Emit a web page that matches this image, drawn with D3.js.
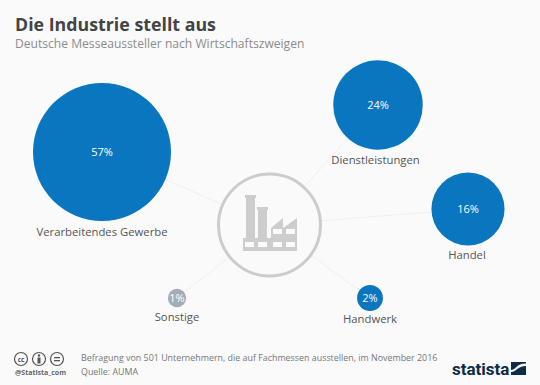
<!DOCTYPE html>
<html>
<head>
<meta charset="utf-8">
<script src="https://cdn.jsdelivr.net/npm/d3@7"></script>
<style>
html, body { margin: 0; padding: 0; background: #fafafa; overflow: hidden; }
text { font-family: "Open Sans", sans-serif; }
</style>
</head>
<body>
<div id="chart"></div>
<script>
const categories = ["Verarbeitendes Gewerbe", "Dienstleistungen", "Handel", "Handwerk", "Sonstige"];
const shares = [57, 24, 16, 2, 1];

const width = 540;
const height = 385;

const svg = d3.select("#chart")
    .append("svg")
    .attr("width", width)
    .attr("height", height)
    .style("display", "block");

svg.append("rect")
    .attr("width", width)
    .attr("height", height)
    .attr("fill", "#fafafa");

// bubble area follows the share
const radius = d3.scaleSqrt().domain([0, 57]).range([0, 69]);

// where each bubble sits around the hub, and where its label goes
const hub = { x: 269.5, y: 225, r: 51 };
const spots = [
    { x: 102, y: 152, labelX: 102, labelY: 236 },
    { x: 378, y: 105, labelX: 375.5, labelY: 164 },
    { x: 468, y: 209, labelX: 467, labelY: 259 },
    { x: 370, y: 298, labelX: 370, labelY: 323 },
    { x: 177, y: 298, labelX: 177, labelY: 321 }
];

const nodes = categories.map((name, i) => ({
    name: name,
    share: shares[i],
    spot: spots[i]
}));

svg.selectAll(".spoke")
    .data(nodes)
    .enter()
    .append("line")
    .attr("class", "spoke")
    .attr("x1", hub.x)
    .attr("y1", hub.y)
    .attr("x2", d => d.spot.x)
    .attr("y2", d => d.spot.y)
    .attr("stroke", "#efefef")
    .attr("stroke-width", 1);

svg.append("circle")
    .attr("cx", hub.x)
    .attr("cy", hub.y)
    .attr("r", hub.r)
    .attr("fill", "#fafafa")
    .attr("stroke", "#cccccc")
    .attr("stroke-width", 3);

// factory icon
const factory = svg.append("g")
    .attr("transform", "translate(200,150)")
    .attr("fill", "#cdcdcd");

factory.append("path")
    .attr("d", "M46,48 H55 V90 H46 Z M58,60 H67 V90 H58 Z M71,90 V78 L83,68 V78 L97,68 V90 Z M43,88 H97 V101 H43 Z M45,45 H56 V48 H45 Z M57,57 H68 V60 H57 Z");

factory.selectAll(".pane")
    .data([[73, 79], [86, 79], [45, 92], [58, 92], [73, 92], [86, 92]])
    .enter()
    .append("rect")
    .attr("class", "pane")
    .attr("x", d => d[0])
    .attr("y", d => d[1])
    .attr("width", 9)
    .attr("height", 5)
    .attr("fill", "#fafafa");

svg.selectAll(".bubble")
    .data(nodes)
    .enter()
    .append("circle")
    .attr("class", "bubble")
    .attr("cx", d => d.spot.x)
    .attr("cy", d => d.spot.y)
    .attr("r", d => radius(d.share))
    .attr("fill", d => d.name === "Sonstige" ? "#a3adb8" : "#0b76c0");

svg.selectAll(".value")
    .data(nodes)
    .enter()
    .append("text")
    .attr("class", "value")
    .attr("x", d => d.spot.x)
    .attr("y", d => d.spot.y + 4)
    .attr("text-anchor", "middle")
    .attr("font-size", 11)
    .attr("fill", "#ffffff")
    .text(d => d.share + "%");

svg.selectAll(".name")
    .data(nodes)
    .enter()
    .append("text")
    .attr("class", "name")
    .attr("x", d => d.spot.labelX)
    .attr("y", d => d.spot.labelY)
    .attr("text-anchor", "middle")
    .attr("font-size", 11.3)
    .attr("fill", "#555555")
    .text(d => d.name);

svg.append("text")
    .attr("x", 15)
    .attr("y", 31)
    .attr("font-size", 17.8)
    .attr("font-weight", 700)
    .attr("fill", "#444444")
    .text("Die Industrie stellt aus");

svg.append("text")
    .attr("x", 15)
    .attr("y", 48)
    .attr("font-size", 12.1)
    .attr("fill", "#8c8c8c")
    .text("Deutsche Messeaussteller nach Wirtschaftszweigen");

svg.append("text")
    .attr("x", 81)
    .attr("y", 361)
    .attr("font-size", 8.9)
    .attr("fill", "#777777")
    .text("Befragung von 501 Unternehmern, die auf Fachmessen ausstellen, im November 2016");

svg.append("text")
    .attr("x", 81)
    .attr("y", 375)
    .attr("font-size", 8.9)
    .attr("fill", "#777777")
    .text("Quelle: AUMA");

// licence badges
const badges = svg.append("g").attr("fill", "none").attr("stroke", "#555555").attr("stroke-width", 1.2);
badges.selectAll("circle")
    .data([21, 39, 57])
    .enter()
    .append("circle")
    .attr("cx", d => d)
    .attr("cy", 359)
    .attr("r", 6.5);

svg.append("text")
    .attr("x", 21)
    .attr("y", 361.5)
    .attr("text-anchor", "middle")
    .attr("font-size", 6.5)
    .attr("font-weight", 700)
    .attr("fill", "#555555")
    .text("cc");

svg.append("circle").attr("cx", 39).attr("cy", 355.5).attr("r", 1.2).attr("fill", "#555555");
svg.append("rect").attr("x", 37.5).attr("y", 357.5).attr("width", 3).attr("height", 6).attr("fill", "#555555");
svg.append("rect").attr("x", 54).attr("y", 357).attr("width", 6).attr("height", 1.3).attr("fill", "#555555");
svg.append("rect").attr("x", 54).attr("y", 360).attr("width", 6).attr("height", 1.3).attr("fill", "#555555");

svg.append("text")
    .attr("x", 15)
    .attr("y", 375)
    .attr("font-size", 7)
    .attr("font-weight", 700)
    .attr("fill", "#666666")
    .text("@Statista_com");

// statista logo
svg.append("text")
    .attr("x", 452)
    .attr("y", 375)
    .attr("font-size", 17)
    .attr("font-weight", 700)
    .attr("fill", "#0f2b46")
    .style("font-family", "Roboto, sans-serif")
    .text("statista");

svg.append("rect")
    .attr("x", 511)
    .attr("y", 362)
    .attr("width", 15)
    .attr("height", 13)
    .attr("fill", "#0f2b46");

svg.append("path")
    .attr("d", "M511,372 C517,372 517,366 526,366 V363.5 C516,363.5 516,370 511,370 Z")
    .attr("fill", "#fafafa");
</script>
</body>
</html>
